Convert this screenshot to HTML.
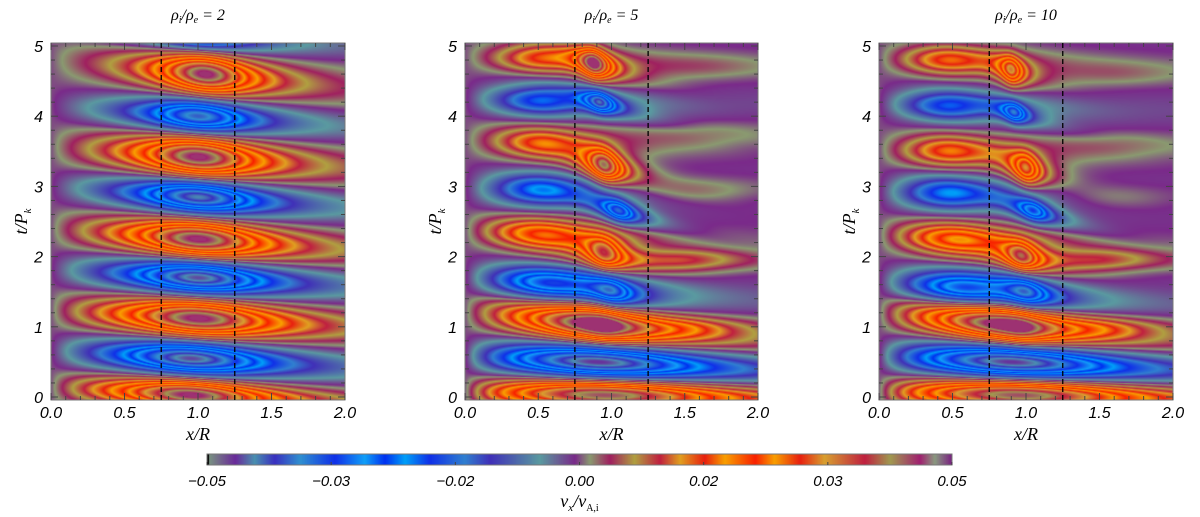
<!DOCTYPE html>
<html><head><meta charset="utf-8">
<style>
html,body{margin:0;padding:0;background:#fff;}
#wrap{position:relative;width:1200px;height:517px;overflow:hidden;}
canvas,svg{position:absolute;left:0;top:0;}
text{font-family:"Liberation Sans",sans-serif;font-style:italic;fill:#000;}
</style></head><body>
<div id="wrap">
<canvas id="cv" width="1200" height="517"></canvas>
<svg id="sv" width="1200" height="517"></svg>
</div>
<script>
// ---- data ----
const panelTitles = ["2", "5", "10"];
const xTicks = [0.0, 0.5, 1.0, 1.5, 2.0];
const xTickLabels = ["0.0", "0.5", "1.0", "1.5", "2.0"];
const yTicks = [0, 1, 2, 3, 4, 5];
const cbTickLabels = ["-0.05", "-0.03", "-0.02", "0.00", "0.02", "0.03", "0.05"];
const tubeEdges = [0.75, 1.25];
const cmapPos = [0,.038,.064,.091,.125,.172,.212,.239,.266,.299,.346,.38,.447,.494,.514,.541,.574,.608,.635,.668,.695,.736,.762,.796,.829,.883,.917,.957,.977,1];
const cmapCol = ["#7a9a80","#6a2a9a","#4a90b0","#3a30c0","#3090d0","#1030e8","#10a0f8","#0030f0","#00a0f8","#1030e8","#3080d0","#4030b8","#5a9aa0","#7a2a8a","#8a9a70","#a02060","#b0a040","#c02040","#e0a020","#e82010","#f8a000","#f82000","#f8a000","#e82010","#d8a030","#c02040","#a09a50","#a02070","#8a9a80","#7a2080"];
// panel 1 (rho=2)
const p1X   = [0.95,0.95,1.0,1.0,1.0,1.0,1.0,1.0,1.05,1.0];
const p1T   = [0.03,0.55,1.12,1.7,2.25,2.85,3.42,4.0,4.6,5.15];
const p1Amp = [.047,-.046,.047,-.046,.047,-.044,.047,-.04,.047,-.03];
const p1Wx  = [0.5,0.5,0.48,0.45,0.42,0.4,0.38,0.35,0.3,0.35];
const p1Wt  = [0.2,0.22,0.24,0.22,0.24,0.22,0.26,0.22,0.26,0.2];
const p1Tilt= [0.12,0.12,0.12,0.12,0.15,0.15,0.15,0.15,0.2,0.15];
// panel 2 (rho=5): left bands, low bands, tube blobs, right bands
const p2X   = [0.5,0.5,0.5,0.5,0.5,0.55, 0.85,0.9,0.95, .88,.92,.95,1.05,.95,1.0,.95, 1.6,1.6,1.6,1.5,1.5];
const p2T   = [4.82,4.22,3.62,2.95,2.32,1.62, 1.05,0.5,0.03, 4.75,4.2,3.3,2.65,2.05,1.5,1.0, 4.7,3.75,2.95,1.95,1.0];
const p2Amp = [.018,-.022,.018,-.024,.025,-.032, .045,-.046,.046, .044,-.034,.044,-.034,.034,-.025,.01, .003,.003,.004,.011,.008];
const p2Wx  = [.33,.33,.33,.35,.38,.4, .5,.7,.8, .1,.1,.12,.12,.13,.15,.15, .5,.5,.5,.4,.4];
const p2Wt  = [.2,.2,.22,.22,.22,.22, .24,.22,.2, .2,.15,.22,.15,.22,.2,.22, .18,.18,.18,.15,.15];
const p2Tilt= [.05,.05,.05,.05,.1,.15, .2,.1,.05, .6,.6,.6,.6,.5,.5,.4, 0,0,0,0,0];
// panel 3 (rho=10)
const p3X   = [0.45,0.45,0.45,0.45,0.5,0.55, 0.8,0.9,0.95, .9,.92,1.0,1.05,.97,1.0,.97, 1.6,1.6,1.6,1.5,1.5];
const p3T   = [4.8,4.15,3.5,2.9,2.25,1.55, 1.05,0.5,0.03, 4.65,4.05,3.25,2.65,2.0,1.5,0.95, 4.6,3.6,2.85,1.95,1.0];
const p3Amp = [.02,-.022,.02,-.024,.027,-.032, .045,-.046,.046, .03,-.03,.032,-.03,.034,-.025,.01, .003,.003,.003,.01,.008];
const p3Wx  = [.33,.33,.33,.35,.38,.4, .5,.7,.8, .08,.08,.1,.12,.12,.15,.15, .5,.5,.5,.4,.4];
const p3Wt  = [.2,.2,.22,.22,.22,.22, .24,.22,.2, .2,.14,.22,.15,.2,.2,.22, .18,.18,.18,.15,.15];
const p3Tilt= [.05,.05,.05,.05,.1,.15, .2,.1,.05, .6,.6,.6,.6,.5,.5,.4, 0,0,0,0,0];
const panelOffsets = [0.0, -0.001, -0.001];

const panels = [{L:51,R:345},{L:465,R:758},{L:879,R:1173}];
const TOP = 43, BOT = 400, XMIN = 0, XMAX = 2;
const yOf = t => 397 - t * (351/5);
const tOf = y => (397 - y) / (351/5);
const cb = {L:207, R:952, T:454, B:465, vmin:-0.05, vmax:0.05};
const VCLAMP = 0.046;

function hex(c){return [parseInt(c.slice(1,3),16),parseInt(c.slice(3,5),16),parseInt(c.slice(5,7),16)];}
const cmapRGB = cmapCol.map(hex);
function cmap(v){
  let f = (v - cb.vmin)/(cb.vmax - cb.vmin);
  f = Math.max(0, Math.min(1, f));
  for (let i=1;i<cmapPos.length;i++){
    if (f <= cmapPos[i]){
      const a=cmapPos[i-1], b=cmapPos[i], k=(f-a)/((b-a)||1);
      const c0=cmapRGB[i-1], c1=cmapRGB[i];
      return [c0[0]+(c1[0]-c0[0])*k, c0[1]+(c1[1]-c0[1])*k, c0[2]+(c1[2]-c0[2])*k];
    }
  }
  return cmapRGB[cmapRGB.length-1];
}

const ctx = document.getElementById('cv').getContext('2d');
const blobSets = [
  [p1X,p1T,p1Amp,p1Wx,p1Wt,p1Tilt],
  [p2X,p2T,p2Amp,p2Wx,p2Wt,p2Tilt],
  [p3X,p3T,p3Amp,p3Wx,p3Wt,p3Tilt]
];
panels.forEach((p, pi) => {
  const bx=blobSets[pi][0], bt=blobSets[pi][1], ba=blobSets[pi][2], bwx=blobSets[pi][3], bwt=blobSets[pi][4], btl=blobSets[pi][5];
  const w = p.R - p.L, h = BOT - TOP;
  const img = ctx.createImageData(w, h);
  for (let j=0;j<h;j++){
    const t = tOf(TOP + j + 0.5);
    for (let i=0;i<w;i++){
      const x = XMIN + (i+0.5)/w*(XMAX-XMIN);
      let v = panelOffsets[pi];
      for (let k=0;k<bx.length;k++){
        const dx = x - bx[k];
        const dt = t - bt[k] + btl[k]*dx;
        const ux = dx/bwx[k], ut = dt/bwt[k];
        v += ba[k]*Math.exp(-(ut*ut))/(1 + ux*ux);
      }
      v *= (1 - Math.exp(-x/0.18));
      v = Math.max(-VCLAMP, Math.min(VCLAMP, v));
      const c = cmap(v);
      const o = (j*w+i)*4;
      img.data[o]=c[0]; img.data[o+1]=c[1]; img.data[o+2]=c[2]; img.data[o+3]=255;
    }
  }
  ctx.putImageData(img, p.L, TOP);
});
for (let px=cb.L; px<cb.R; px++){
  const v = cb.vmin + (px - cb.L + 0.5)/(cb.R-cb.L)*(cb.vmax-cb.vmin);
  const c = cmap(v);
  ctx.fillStyle = "rgb(" + (c[0]|0) + "," + (c[1]|0) + "," + (c[2]|0) + ")";
  ctx.fillRect(px, cb.T, 1, cb.B-cb.T);
}
ctx.fillStyle="#000"; ctx.fillRect(cb.L, cb.T, 2, cb.B-cb.T);

const NS = "http://www.w3.org/2000/svg";
const svgRoot = document.getElementById('sv');
function el(tag, attrs, parent){
  const e = document.createElementNS(NS, tag);
  for (const k in attrs) e.setAttribute(k, attrs[k]);
  (parent||svgRoot).appendChild(e); return e;
}
function ts(parent, txt, attrs){
  const s = el('tspan', attrs||{}, parent);
  s.textContent = txt; return s;
}
panels.forEach((p, pi) => {
  const g = el('g', {});
  
  
  const xOf = x => p.L + (x-XMIN)/(XMAX-XMIN)*(p.R-p.L);
  const fr = el('rect', {x:p.L, y:TOP, width:p.R-p.L, height:BOT-TOP, fill:'none', stroke:'#777', 'stroke-width':1}, g);
  
  
  for (let k=0;k<=20;k++){
    const x = xOf(k*0.1), len = (k%5===0)?7:4;
    el('line',{x1:x,x2:x,y1:BOT,y2:BOT-len,stroke:'#444','stroke-width':1},g);
    el('line',{x1:x,x2:x,y1:TOP,y2:TOP+len,stroke:'#444','stroke-width':1},g);
  }
  for (let k=0;k<=25;k++){
    const y = yOf(k*0.2), len = (k%5===0)?7:4;
    el('line',{x1:p.L,x2:p.L+len,y1:y,y2:y,stroke:'#444','stroke-width':1},g);
    el('line',{x1:p.R,x2:p.R-len,y1:y,y2:y,stroke:'#444','stroke-width':1},g);
  }
  tubeEdges.forEach(xe => {
    const l = el('line',{x1:xOf(xe),x2:xOf(xe),y1:TOP,y2:BOT,stroke:'#000','stroke-width':1.3,'stroke-dasharray':'5,3'},g);
    
    
  });
  xTicks.forEach((v, k) => {
    const t = el('text',{x:xOf(v), y:418, 'font-size':16, 'text-anchor':'middle'},g);
    t.textContent = xTickLabels[k];
    
    
  });
  yTicks.forEach(v => {
    const t = el('text',{x:p.L-8, y:yOf(v)+6, 'font-size':16, 'text-anchor':'end'},g);
    t.textContent = String(v);
    
    
  });
  const xl = el('text',{x:(p.L+p.R)/2, y:440, 'font-size':18, 'text-anchor':'middle', style:'font-family:"Liberation Serif",serif'},g);
  xl.textContent = 'x/R';
  
  
  const yl = el('text',{x:0, y:0, 'font-size':18, 'text-anchor':'middle', transform:'translate(' + (p.L-24) + ',' + ((TOP+BOT)/2) + ') rotate(-90)', style:'font-family:"Liberation Serif",serif'},g);
  ts(yl, 't/P'); ts(yl, 'k', {'font-size':11, dy:4});
  
  
  const ti = el('text',{x:(p.L+p.R)/2, y:20, 'font-size':16, 'text-anchor':'middle', style:'font-family:"Liberation Serif",serif'},g);
  ts(ti,'ρ'); ts(ti,'i',{'font-size':10,dy:3}); ts(ti,'/ρ',{dy:-3}); ts(ti,'e',{'font-size':10,dy:3}); ts(ti,'  =  ' + panelTitles[pi],{dy:-3});
  
  
});
const cbg = el('g',{});


el('rect',{x:cb.L,y:cb.T,width:cb.R-cb.L,height:cb.B-cb.T,fill:'none',stroke:'#777','stroke-width':1},cbg);
cbTickLabels.forEach((lab, k) => {
  const x = cb.L + k/(cbTickLabels.length-1)*(cb.R-cb.L);
  el('line',{x1:x,x2:x,y1:cb.B,y2:cb.B-3,stroke:'#444'},cbg);
  const t = el('text',{x:x, y:486, 'font-size':15, 'text-anchor':'middle'},cbg);
  t.textContent = lab.replace('-', '\u2212');
  
  
});
const cbt = el('text',{x:(cb.L+cb.R)/2, y:507, 'font-size':18, 'text-anchor':'middle', style:'font-family:"Liberation Serif",serif'},cbg);
ts(cbt,'v'); ts(cbt,'x',{'font-size':11,dy:4}); ts(cbt,'/v',{dy:-4}); ts(cbt,'A,i',{'font-size':10,dy:4,'font-style':'normal'});


</script>
</body></html>
